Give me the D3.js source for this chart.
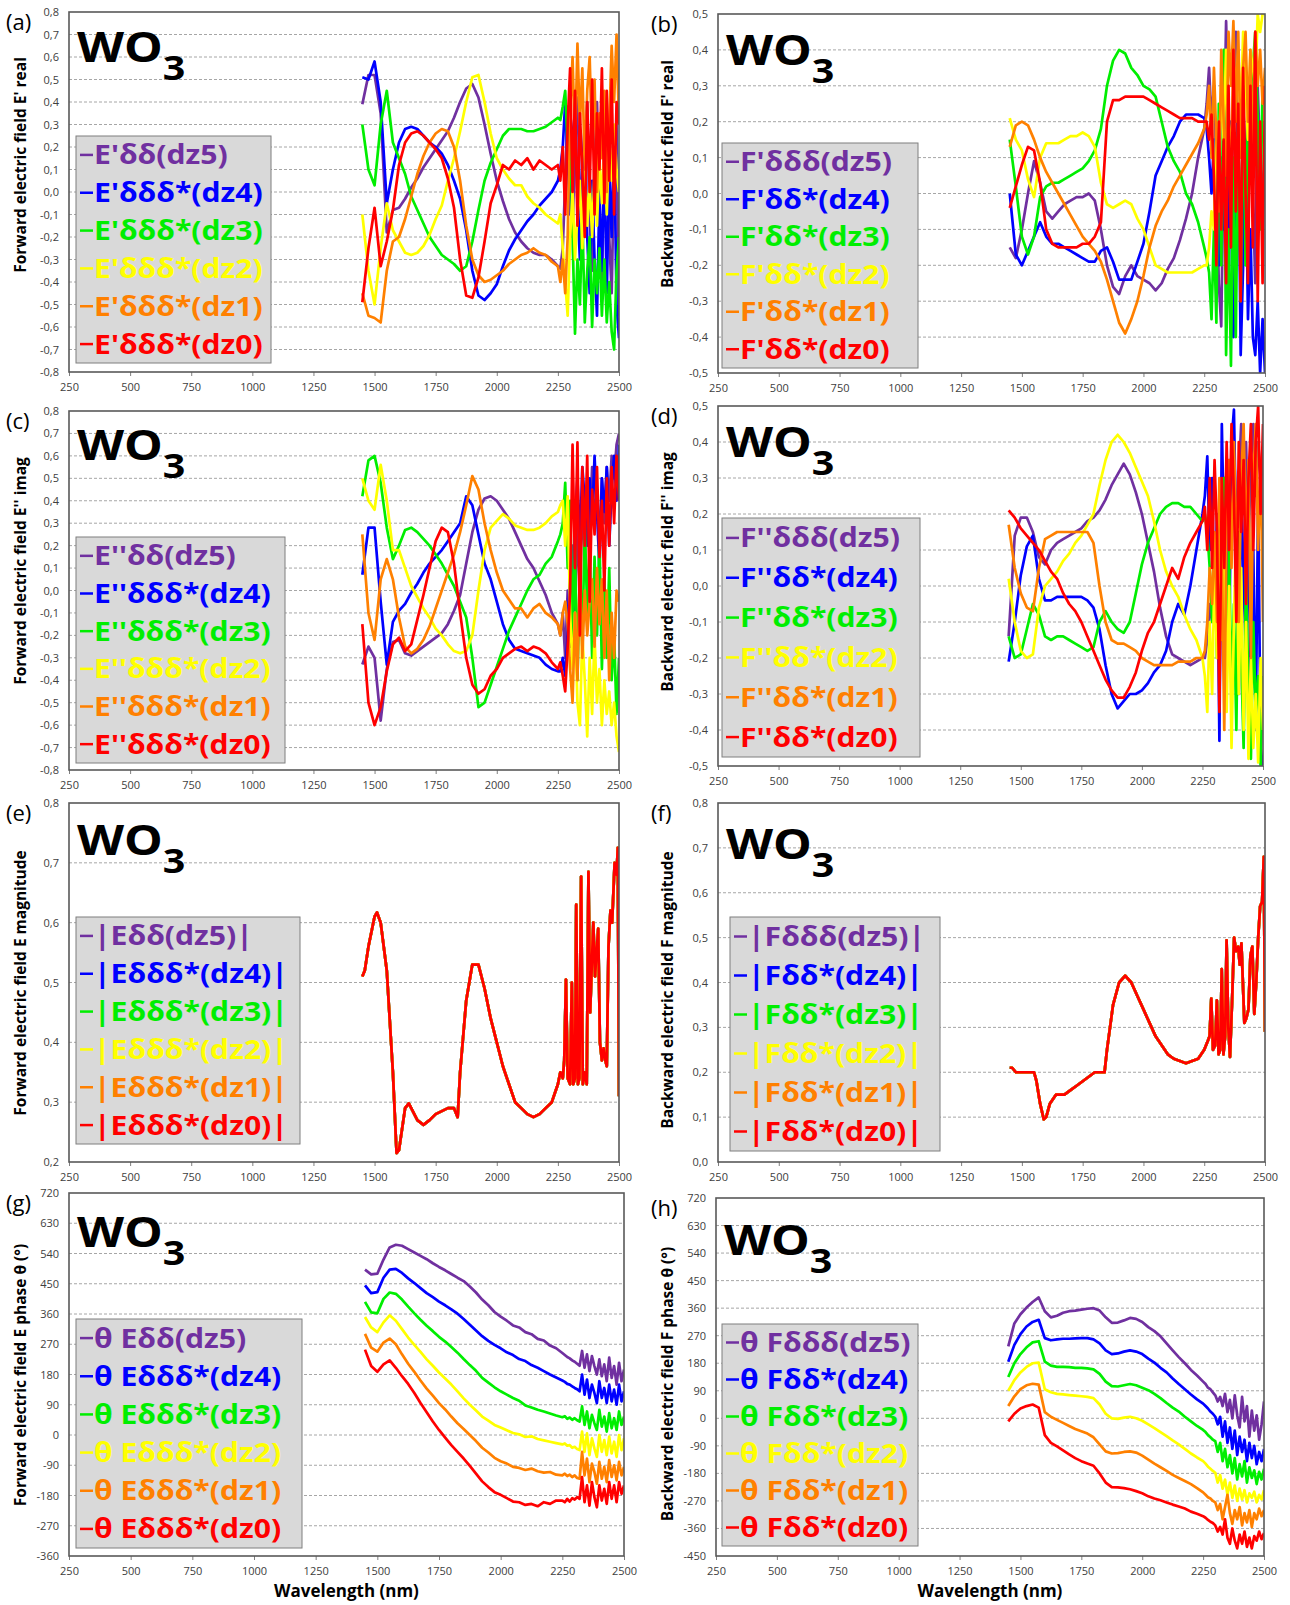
<!DOCTYPE html>
<html>
<head>
<meta charset="utf-8">
<script src="https://cdn.jsdelivr.net/npm/d3@7"></script>
<style>
  body { margin: 0; background: #fff; }
  svg text { font-family: "Open Sans", "Liberation Sans", sans-serif; }
</style>
</head>
<body>
<div id="chart"></div>
<script>
// wavelength grid (nm) for panels a-d, g, h
const wl = [1450,1475,1500,1525,1550,1575,1600,1625,1650,1675,
  1700,1725,1750,1775,1800,1825,1850,1875,1900,1925,
  1950,1975,2000,2025,2050,2075,2100,2125,2150,2175,
  2200,2225,2250,
  2260,2270,2280,2290,2300,2310,2320,2330,2340,2350,
  2360,2370,2380,2390,2400,2410,2420,2430,2440,2450,
  2460,2470,2480,2490,2500];

const colors = ["#7030a0", "#0000ff", "#00ee00", "#ffff00", "#ff8000", "#ff0000"];
const xTicks = [250, 500, 750, 1000, 1250, 1500, 1750, 2000, 2250, 2500];

// (a) forward E' real, rows dz5 .. dz0
const eReal = [
  [0.39,0.52,0.52,0.35,-0.18,-0.08,-0.07,-0.03,0.02,0.06, 0.11,0.15,0.19,0.23,0.27,0.33,0.40,0.46,0.48,0.42,
   0.30,0.17,0.05,-0.04,-0.12,-0.18,-0.22,-0.25,-0.27,-0.28, -0.28,-0.30,-0.33,
   -0.34,-0.25,0.05,0.38,0.10,-0.20,0.25,0.42,0.00,-0.30, 0.20,0.40,-0.10,-0.35,0.15,0.40,-0.05,-0.40,0.10,0.35, -0.20,-0.45,0.10,0.30,-0.55],
  [0.51,0.50,0.58,0.40,-0.05,0.10,0.22,0.28,0.29,0.28, 0.25,0.22,0.20,0.17,0.12,0.05,-0.03,-0.17,-0.35,-0.46,
   -0.48,-0.45,-0.41,-0.33,-0.26,-0.21,-0.17,-0.13,-0.10,-0.06, -0.03,0.00,0.05,
   0.10,0.20,0.40,0.15,-0.10,0.25,0.35,-0.05,-0.30,0.10, 0.30,-0.20,-0.45,0.05,-0.30,-0.55,0.00,-0.35,0.15,-0.45, 0.10,-0.20,0.25,-0.50,-0.65],
  [0.30,0.10,0.03,0.30,0.45,0.22,0.15,0.08,-0.02,-0.08, -0.14,-0.20,-0.24,-0.28,-0.30,-0.32,-0.35,-0.33,-0.22,-0.08,
   0.05,0.13,0.19,0.25,0.28,0.28,0.28,0.27,0.27,0.28, 0.29,0.31,0.33,
   0.32,0.38,0.45,0.20,0.30,-0.20,-0.63,-0.30,-0.50,-0.10, -0.58,-0.35,-0.20,-0.60,-0.30,-0.45,-0.25,-0.55,-0.30,-0.58, -0.40,-0.62,-0.70,-0.35,-0.20],
  [-0.10,-0.35,-0.50,-0.25,-0.05,-0.17,-0.22,-0.27,-0.28,-0.27, -0.24,-0.19,-0.12,-0.06,0.05,0.15,0.27,0.40,0.51,0.52,
   0.40,0.26,0.15,0.10,0.06,0.03,0.03,-0.02,-0.05,-0.07, -0.10,-0.12,-0.14,
   -0.10,-0.25,-0.40,-0.55,-0.20,0.00,-0.30,-0.10,0.05,-0.25, 0.10,-0.15,0.05,-0.20,0.10,-0.15,0.15,-0.05,0.20,-0.10, 0.25,0.05,0.30,0.10,0.00],
  [-0.45,-0.55,-0.56,-0.58,-0.35,-0.22,-0.20,-0.12,-0.02,0.08, 0.16,0.22,0.26,0.28,0.27,0.20,0.05,-0.15,-0.30,-0.37,
   -0.40,-0.39,-0.37,-0.35,-0.32,-0.30,-0.28,-0.27,-0.25,-0.27, -0.28,-0.31,-0.33,
   -0.40,-0.30,-0.45,-0.20,0.35,0.60,0.20,0.66,0.30,0.55, 0.10,0.45,0.60,0.20,0.50,0.00,0.35,0.15,0.45,0.00, 0.30,0.65,0.40,0.70,0.30],
  [-0.49,-0.25,-0.07,-0.33,-0.22,-0.08,0.12,0.22,0.26,0.27, 0.25,0.22,0.19,0.15,0.06,-0.07,-0.30,-0.46,-0.47,-0.38,
   -0.22,-0.05,0.03,0.12,0.10,0.14,0.12,0.15,0.10,0.14, 0.12,0.10,0.12,
   0.05,0.20,-0.10,0.30,0.55,0.00,0.45,-0.15,0.35,0.10, -0.20,0.40,0.00,0.50,-0.10,0.35,0.10,0.55,-0.05,0.45, 0.05,0.50,-0.10,0.40,0.30]
];

// (b) backward F' real
const fReal = [
  [-0.15,-0.18,-0.10,0.00,0.09,0.03,-0.05,-0.07,-0.05,-0.03, -0.02,-0.01,-0.01,0.00,-0.02,-0.10,-0.20,-0.26,-0.28,-0.23,
   -0.20,-0.23,-0.24,-0.25,-0.27,-0.25,-0.21,-0.18,-0.13,-0.07, 0.00,0.10,0.18,
   0.25,0.35,0.20,0.30,0.05,-0.25,-0.37,0.10,0.48,0.20, -0.15,0.30,0.45,0.05,-0.20,0.25,0.10,-0.10,0.35,0.00, -0.25,0.30,0.10,-0.05,0.20],
  [0.00,-0.17,-0.20,-0.16,-0.12,-0.08,-0.12,-0.14,-0.14,-0.15, -0.16,-0.17,-0.18,-0.19,-0.19,-0.16,-0.15,-0.19,-0.24,-0.24,
   -0.24,-0.19,-0.14,-0.05,0.05,0.09,0.13,0.16,0.20,0.22, 0.22,0.22,0.21,
   0.18,0.10,0.00,0.15,0.05,-0.20,0.10,-0.10,0.30,-0.30, 0.20,-0.40,-0.15,0.20,-0.45,-0.20,0.15,-0.35,-0.10,-0.40, -0.45,-0.30,-0.50,-0.35,-0.50],
  [0.15,0.02,-0.12,-0.17,-0.12,-0.01,0.02,0.03,0.03,0.04, 0.05,0.06,0.07,0.09,0.12,0.18,0.30,0.37,0.40,0.39,
   0.35,0.33,0.30,0.29,0.27,0.20,0.13,0.09,0.06,0.00, -0.03,-0.08,-0.15,
   -0.18,-0.22,-0.35,-0.10,-0.36,0.25,-0.20,0.40,-0.45,-0.10, -0.48,0.10,-0.40,0.20,-0.30,0.30,-0.20,0.25,0.05,0.35, 0.45,0.20,-0.10,0.30,0.25],
  [0.21,0.15,0.12,0.04,-0.01,0.10,0.14,0.14,0.14,0.15, 0.16,0.16,0.17,0.16,0.13,0.03,-0.03,-0.04,-0.03,-0.02,
   -0.03,-0.07,-0.10,-0.15,-0.20,-0.21,-0.22,-0.22,-0.22,-0.22, -0.22,-0.21,-0.20,
   -0.20,-0.15,-0.05,-0.10,0.20,0.10,0.30,0.15,0.40,0.20, 0.10,0.35,0.25,0.40,0.20,0.45,0.30,0.15,0.40,0.35, 0.30,0.50,0.45,0.50,0.50],
  [0.13,0.19,0.20,0.19,0.15,0.10,0.06,0.03,0.00,-0.03, -0.06,-0.09,-0.12,-0.14,-0.16,-0.19,-0.24,-0.30,-0.36,-0.39,
   -0.35,-0.30,-0.23,-0.15,-0.09,-0.05,-0.02,0.02,0.05,0.08, 0.11,0.14,0.18,
   0.22,0.30,0.10,0.35,0.15,-0.05,0.40,0.20,0.05,0.45, 0.30,0.48,0.20,0.45,0.10,0.35,0.45,0.20,0.40,0.10, 0.45,0.30,0.40,0.25,0.35],
  [-0.04,0.02,0.08,0.13,0.12,0.03,-0.10,-0.14,-0.15,-0.15, -0.15,-0.15,-0.14,-0.14,-0.12,-0.08,0.20,0.26,0.26,0.27,
   0.27,0.27,0.27,0.26,0.25,0.24,0.23,0.22,0.21,0.21, 0.21,0.20,0.20,
   0.20,0.15,0.22,0.05,-0.20,0.20,-0.10,0.15,-0.25,0.30, -0.15,0.40,-0.05,0.25,-0.30,0.35,0.00,-0.25,0.30,-0.15, 0.45,-0.30,0.20,-0.25,0.30]
];

// (c) forward E'' imag
const eImag = [
  [-0.33,-0.25,-0.30,-0.58,-0.35,-0.23,-0.22,-0.28,-0.29,-0.27, -0.25,-0.23,-0.21,-0.19,-0.15,-0.09,-0.02,0.12,0.26,0.36,
   0.41,0.42,0.40,0.36,0.32,0.26,0.20,0.14,0.10,0.04, -0.02,-0.10,-0.15,
   -0.20,-0.10,-0.30,0.00,-0.25,0.20,-0.10,0.30,0.00,0.40, 0.15,0.50,0.25,0.55,0.30,0.45,0.20,0.50,0.30,0.55, 0.40,0.60,0.50,0.65,0.70],
  [0.07,0.28,0.28,-0.05,-0.33,-0.14,-0.09,-0.06,-0.01,0.03, 0.08,0.12,0.15,0.18,0.22,0.26,0.30,0.42,0.38,0.25,
   0.12,0.05,-0.05,-0.15,-0.22,-0.26,-0.27,-0.28,-0.29,-0.30, -0.33,-0.35,-0.36,
   -0.36,-0.30,-0.38,-0.20,0.10,-0.25,0.30,0.50,0.20,0.55, 0.40,0.20,0.50,0.30,0.60,0.35,0.10,0.50,0.35,0.55, 0.20,0.45,0.60,0.40,0.65],
  [0.42,0.58,0.60,0.48,0.28,0.14,0.20,0.27,0.28,0.26, 0.23,0.20,0.16,0.12,0.07,0.02,-0.05,-0.12,-0.30,-0.52,
   -0.50,-0.42,-0.34,-0.26,-0.18,-0.12,-0.06,0.00,0.05,0.07, 0.12,0.15,0.22,
   0.25,0.30,0.48,0.10,0.40,-0.20,0.20,-0.40,0.10,-0.25, 0.30,-0.10,0.20,-0.30,0.15,-0.20,0.25,-0.35,0.05,-0.30, 0.10,-0.40,-0.20,-0.55,-0.30],
  [0.50,0.40,0.36,0.56,0.40,0.18,0.18,0.10,0.02,-0.03, -0.08,-0.12,-0.17,-0.20,-0.24,-0.27,-0.28,-0.27,-0.20,0.00,
   0.18,0.28,0.31,0.34,0.32,0.29,0.28,0.27,0.27,0.28, 0.30,0.33,0.35,
   0.38,0.40,0.20,0.42,-0.10,-0.35,-0.10,-0.50,-0.60,-0.20, -0.40,-0.65,-0.30,-0.55,-0.20,-0.50,-0.35,-0.60,-0.40,-0.55, -0.45,-0.60,-0.50,-0.65,-0.72],
  [0.25,-0.10,-0.22,0.05,0.14,0.05,-0.12,-0.25,-0.28,-0.26, -0.22,-0.16,-0.08,0.00,0.08,0.16,0.26,0.38,0.51,0.45,
   0.30,0.18,0.08,0.00,-0.04,-0.08,-0.08,-0.12,-0.08,-0.06, -0.10,-0.12,-0.15,
   -0.20,-0.10,-0.05,-0.15,-0.35,-0.50,-0.10,-0.40,0.10,-0.30, 0.00,-0.20,-0.05,0.05,-0.25,0.10,-0.15,0.05,-0.30,0.00, -0.40,-0.10,-0.30,0.00,-0.05],
  [-0.15,-0.50,-0.60,-0.52,-0.36,-0.24,-0.21,-0.27,-0.24,-0.13, -0.02,0.10,0.22,0.28,0.26,0.12,-0.10,-0.30,-0.42,-0.46,
   -0.44,-0.38,-0.35,-0.30,-0.28,-0.26,-0.25,-0.27,-0.25,-0.26, -0.28,-0.32,-0.35,
   -0.32,-0.38,-0.45,-0.25,0.00,0.65,0.10,0.66,-0.20,0.55, 0.20,0.60,-0.05,0.45,0.25,0.55,0.15,0.40,0.00,0.50, 0.20,0.55,0.30,0.60,0.40]
];

// (d) backward F'' imag
const fImag = [
  [-0.14,0.14,0.19,0.19,0.15,0.08,0.06,0.10,0.12,0.13, 0.14,0.15,0.16,0.18,0.19,0.21,0.24,0.28,0.31,0.34,
   0.31,0.26,0.20,0.12,0.04,-0.06,-0.14,-0.19,-0.20,-0.21, -0.22,-0.21,-0.20,
   -0.20,-0.15,-0.05,-0.10,0.10,-0.05,0.20,0.05,0.30,0.10, 0.35,0.20,0.40,0.15,0.30,0.45,0.20,0.40,0.10,0.35, 0.45,0.25,0.40,0.30,0.10],
  [-0.21,-0.10,0.03,0.11,0.14,0.02,-0.04,-0.04,-0.03,-0.03, -0.03,-0.03,-0.03,-0.04,-0.06,-0.12,-0.22,-0.30,-0.34,-0.32,
   -0.30,-0.30,-0.29,-0.27,-0.24,-0.22,-0.18,-0.10,-0.05,-0.08, 0.00,0.10,0.20,
   0.25,0.36,0.10,0.30,-0.10,0.20,-0.43,0.45,0.10,0.35, -0.20,0.40,0.49,0.10,-0.30,0.30,0.00,-0.20,0.20,-0.35, 0.10,-0.40,0.25,-0.45,-0.50],
  [-0.14,-0.20,-0.19,-0.12,-0.05,-0.08,-0.14,-0.15,-0.14,-0.14, -0.15,-0.16,-0.17,-0.18,-0.17,-0.10,-0.07,-0.10,-0.12,-0.13,
   -0.10,-0.02,0.06,0.12,0.16,0.20,0.22,0.23,0.23,0.22, 0.22,0.20,0.18,
   0.20,0.15,0.05,-0.10,0.10,-0.20,0.20,-0.15,0.30,-0.25, 0.10,-0.30,-0.05,-0.40,0.15,-0.20,-0.45,0.05,-0.30,-0.48, -0.10,-0.35,-0.25,-0.50,-0.25],
  [0.02,-0.10,-0.18,-0.20,-0.19,-0.06,0.00,0.02,0.04,0.07, 0.09,0.12,0.14,0.17,0.20,0.28,0.35,0.40,0.42,0.40,
   0.37,0.33,0.29,0.25,0.18,0.10,0.04,0.00,-0.03,-0.08, -0.12,-0.15,-0.20,
   -0.25,-0.35,-0.10,-0.30,0.05,-0.20,0.25,-0.15,0.10,-0.35, 0.00,-0.45,-0.10,0.20,-0.30,0.05,-0.40,-0.10,-0.48,-0.20, -0.45,-0.30,-0.49,-0.20,-0.40],
  [0.17,0.05,-0.02,-0.06,-0.07,0.05,0.13,0.14,0.15,0.15, 0.15,0.15,0.15,0.15,0.12,0.00,-0.10,-0.15,-0.16,-0.16,
   -0.17,-0.18,-0.20,-0.21,-0.22,-0.22,-0.22,-0.22,-0.21,-0.21, -0.21,-0.20,-0.20,
   -0.18,-0.10,0.05,-0.05,0.15,-0.10,0.30,0.10,-0.40,0.20, 0.35,0.05,0.40,0.15,-0.10,0.30,0.45,0.10,0.35,-0.20, 0.30,0.45,0.10,0.35,-0.10],
  [0.21,0.19,0.16,0.14,0.12,0.10,0.07,0.04,0.02,-0.02, -0.05,-0.07,-0.10,-0.14,-0.18,-0.22,-0.26,-0.29,-0.31,-0.31,
   -0.28,-0.24,-0.18,-0.13,-0.10,-0.05,0.00,0.05,0.02,0.08, 0.12,0.15,0.18,
   0.22,0.10,0.30,0.05,0.35,0.15,-0.35,0.30,0.05,0.40, 0.10,0.45,0.25,-0.10,0.40,0.15,0.35,-0.05,0.30,0.45, 0.10,0.40,0.50,0.20,0.45]
];

// (e) |E| – identical for all six dz, its own finer grid
const eMagWl = [1450,1460,1475,1500,1510,1525,1550,1575,1590,1600,
  1625,1640,1650,1675,1700,1725,1750,1775,1800,1825,
  1840,1850,1875,1900,1925,1950,1975,2000,2025,2050,
  2075,2100,2125,2150,2175,2200,2225,2250,2260,2270,
  2276,2283,2290,2300,2307,2313,2320,2325,2332,2338,
  2345,2352,2360,2368,2375,2382,2388,2395,2402,2408,
  2415,2422,2430,2437,2444,2450,2457,2465,2472,2482,
  2490,2495,2500];
const eMag = [0.51,0.52,0.56,0.61,0.617,0.60,0.52,0.35,0.215,0.22,
  0.29,0.298,0.29,0.27,0.262,0.27,0.28,0.285,0.29,0.29,
  0.275,0.35,0.47,0.53,0.53,0.49,0.44,0.40,0.36,0.33,
  0.30,0.29,0.28,0.275,0.28,0.29,0.30,0.33,0.35,0.34,
  0.37,0.505,0.34,0.33,0.50,0.33,0.34,0.63,0.33,0.34,
  0.677,0.33,0.35,0.33,0.685,0.45,0.52,0.60,0.51,0.55,
  0.59,0.40,0.37,0.39,0.37,0.36,0.56,0.62,0.60,0.70,
  0.68,0.725,0.31];

// (f) |F|
const fMagWl = [1450,1460,1475,1500,1525,1550,1560,1575,1590,1600,
  1615,1640,1650,1675,1700,1725,1750,1775,1800,1825,
  1840,1850,1875,1900,1925,1950,1975,2000,2025,2050,
  2075,2100,2125,2150,2175,2200,2225,2250,2265,2272,
  2279,2286,2295,2302,2309,2316,2322,2329,2336,2342,
  2349,2356,2364,2373,2381,2390,2396,2403,2409,2415,
  2423,2432,2440,2448,2456,2464,2472,2480,2488,2495,
  2500];
const fMag = [0.21,0.21,0.20,0.20,0.20,0.20,0.18,0.13,0.095,0.10,
  0.13,0.15,0.15,0.15,0.16,0.17,0.18,0.19,0.20,0.20,
  0.20,0.25,0.35,0.40,0.415,0.40,0.37,0.34,0.31,0.28,
  0.26,0.24,0.23,0.225,0.22,0.225,0.23,0.25,0.27,0.28,
  0.364,0.25,0.26,0.36,0.24,0.25,0.43,0.24,0.28,0.494,
  0.30,0.234,0.35,0.50,0.47,0.48,0.44,0.487,0.40,0.31,
  0.32,0.34,0.46,0.48,0.33,0.40,0.50,0.57,0.58,0.68,
  0.29];

// (g) phase of E (deg)
const ePhase = [
  [492,478,480,522,558,566,563,553,543,533, 523,511,500,490,479,468,458,442,424,403,
   386,366,352,340,326,320,306,300,286,281, 266,258,244,
   238,232,228,222,218,212,206,250,200,240, 190,235,205,180,225,175,210,160,230,170, 205,150,215,160,195],
  [445,422,425,468,492,494,482,466,452,437, 422,410,397,386,374,361,345,328,311,294,
   280,268,258,246,238,226,220,208,200,190, 180,171,162,
   158,152,150,145,140,136,130,180,120,165, 110,150,125,95,160,110,140,95,150,100, 135,90,150,100,130],
  [396,365,362,405,424,420,403,382,362,343, 325,309,292,278,262,245,226,208,191,170,
   156,142,130,120,110,102,88,82,75,70, 64,58,53,
   56,48,52,45,50,44,40,85,30,70, 20,60,35,15,75,25,55,10,65,20, 50,15,70,30,55],
  [351,320,306,335,356,340,315,290,268,247, 225,206,186,168,150,130,109,90,73,55,
   43,30,22,14,6,2,-6,-4,-12,-16, -20,-24,-28,
   -25,-32,-30,-38,-35,-42,-45,10,-50,5, -60,-10,-40,-65,0,-50,-15,-60,-5,-55, -20,-65,0,-45,-10],
  [301,260,248,275,287,270,240,212,188,162, 138,117,95,76,55,35,18,0,-18,-38,
   -52,-68,-78,-85,-95,-98,-104,-100,-108,-112, -110,-118,-120,
   -115,-122,-118,-125,-120,-128,-130,-50,-120,-70, -140,-85,-110,-145,-80,-130,-95,-140,-75,-125, -90,-135,-80,-120,-95],
  [254,205,188,210,222,200,175,152,125,95, 68,40,15,-8,-30,-50,-70,-92,-115,-138,
   -155,-170,-178,-188,-198,-200,-208,-205,-212,-200, -205,-195,-195,
   -200,-190,-198,-188,-192,-185,-190,-125,-200,-150, -210,-140,-185,-215,-150,-195,-160,-205,-140,-190, -150,-200,-140,-175,-150]
];

// (h) phase of F (deg)
const fPhase = [
  [235,310,340,362,380,395,350,330,335,345, 350,352,355,358,360,352,330,312,313,320,
   328,325,315,298,285,268,245,222,200,180, 158,140,120,
   112,100,95,85,75,55,70,40,80,20, 60,0,75,10,-30,70,-10,40,-60,25, -40,10,-70,-20,55],
  [185,240,275,300,315,322,262,255,258,260, 260,261,262,262,258,245,222,210,212,218,
   222,218,210,195,182,165,150,130,112,95, 78,62,48,
   40,32,22,15,5,-20,5,-60,-10,-80, -30,-100,-40,-120,-60,-110,-70,-140,-80,-130, -90,-150,-110,-140,-100],
  [135,180,210,232,248,252,185,172,168,168, 167,165,165,163,160,145,120,105,104,108,
   112,108,100,92,80,66,50,35,22,5, -10,-25,-38,
   -45,-55,-62,-70,-75,-110,-80,-140,-100,-160, -120,-180,-130,-200,-150,-190,-140,-210,-160,-195, -170,-215,-175,-200,-165],
  [90,125,150,168,180,182,95,85,80,78, 76,74,72,70,66,45,15,0,-2,2,
   5,0,-8,-20,-32,-45,-58,-72,-85,-100, -115,-128,-140,
   -148,-158,-165,-172,-178,-210,-185,-230,-200,-250, -210,-260,-220,-270,-230,-265,-235,-275,-245,-260, -240,-275,-250,-265,-235],
  [40,72,95,108,113,110,20,5,-5,-15, -25,-35,-42,-50,-62,-85,-108,-115,-114,-110,
   -108,-112,-122,-135,-148,-160,-172,-185,-195,-205, -215,-228,-242,
   -250,-258,-262,-270,-275,-300,-280,-330,-290,-250, -310,-345,-300,-330,-290,-350,-310,-340,-300,-355, -310,-330,-295,-320,-300],
  [-10,15,32,40,45,35,-55,-80,-92,-105, -118,-130,-140,-148,-155,-180,-210,-225,-226,-228,
   -232,-238,-245,-255,-262,-268,-275,-282,-288,-295, -305,-312,-320,
   -325,-332,-338,-342,-350,-370,-355,-380,-330,-390, -410,-360,-400,-425,-380,-410,-370,-420,-390,-425, -385,-400,-370,-395,-375]
];

// legend texts
const legA = ["E'δδ(dz5)", "E'δδδ*(dz4)", "E'δδδ*(dz3)", "E'δδδ*(dz2)", "E'δδδ*(dz1)", "E'δδδ*(dz0)"];
const legB = ["F'δδδ(dz5)", "F'δδ*(dz4)", "F'δδ*(dz3)", "F'δδ*(dz2)", "F'δδ*(dz1)", "F'δδ*(dz0)"];
const legC = ["E''δδ(dz5)", "E''δδδ*(dz4)", "E''δδδ*(dz3)", "E''δδδ*(dz2)", "E''δδδ*(dz1)", "E''δδδ*(dz0)"];
const legD = ["F''δδδ(dz5)", "F''δδ*(dz4)", "F''δδ*(dz3)", "F''δδ*(dz2)", "F''δδ*(dz1)", "F''δδ*(dz0)"];
const legE = ["|Eδδ(dz5)|", "|Eδδδ*(dz4)|", "|Eδδδ*(dz3)|", "|Eδδδ*(dz2)|", "|Eδδδ*(dz1)|", "|Eδδδ*(dz0)|"];
const legF = ["|Fδδδ(dz5)|", "|Fδδ*(dz4)|", "|Fδδ*(dz3)|", "|Fδδ*(dz2)|", "|Fδδ*(dz1)|", "|Fδδ*(dz0)|"];
const legG = ["θ Eδδ(dz5)", "θ Eδδδ*(dz4)", "θ Eδδδ*(dz3)", "θ Eδδδ*(dz2)", "θ Eδδδ*(dz1)", "θ Eδδδ*(dz0)"];
const legH = ["θ Fδδδ(dz5)", "θ Fδδ*(dz4)", "θ Fδδ*(dz3)", "θ Fδδ*(dz2)", "θ Fδδ*(dz1)", "θ Fδδ*(dz0)"];

let panels = [
  { tag: "(a)", xs: wl, rows: eReal, dom: [-0.8, 0.8], step: 0.1, box: [69, 12, 619, 372],
    title: "Forward electric field E' real", titleY: 165, leg: legA, legBox: [76, 136, 271, 363], woY: 50 },
  { tag: "(b)", xs: wl, rows: fReal, dom: [-0.5, 0.5], step: 0.1, box: [718, 14, 1265, 373],
    title: "Backward electric field F' real", titleY: 174, leg: legB, legBox: [722, 143, 918, 368], woY: 51 },
  { tag: "(c)", xs: wl, rows: eImag, dom: [-0.8, 0.8], step: 0.1, box: [69, 411, 619, 770],
    title: "Forward electric field E'' imag", titleY: 571, leg: legC, legBox: [76, 537, 285, 763], woY: 49 },
  { tag: "(d)", xs: wl, rows: fImag, dom: [-0.5, 0.5], step: 0.1, box: [718, 406, 1263, 766],
    title: "Backward electric field F'' imag", titleY: 572, leg: legD, legBox: [722, 518, 920, 757], woY: 51 },
  { tag: "(e)", xs: eMagWl, rows: [eMag, eMag, eMag, eMag, eMag, eMag], dom: [0.2, 0.8], step: 0.1, box: [69, 803, 619, 1162],
    title: "Forward electric field E magnitude", titleY: 983, leg: legE, legBox: [76, 917, 300, 1144], woY: 52 },
  { tag: "(f)", xs: fMagWl, rows: [fMag, fMag, fMag, fMag, fMag, fMag], dom: [0.0, 0.8], step: 0.1, box: [718, 803, 1265, 1162],
    title: "Backward electric field F magnitude", titleY: 990, leg: legF, legBox: [730, 917, 940, 1151], woY: 56 },
  { tag: "(g)", xs: wl, rows: ePhase, dom: [-360, 720], step: 90, box: [69, 1193, 624, 1556],
    title: "Forward electric field E phase θ (°)", titleY: 1375, leg: legG, legBox: [76, 1319, 302, 1548], woY: 54, xTitle: true },
  { tag: "(h)", xs: wl, rows: fPhase, dom: [-450, 720], step: 90, box: [716, 1198, 1264, 1556],
    title: "Backward electric field F phase θ (°)", titleY: 1384, leg: legH, legBox: [722, 1324, 918, 1546], woY: 57, xTitle: true }
];

let svg = d3.select("#chart")
  .append("svg")
  .attr("width", 1290)
  .attr("height", 1605);

function fmtTick(d, step) {
  if (step >= 1) return String(Math.round(d));
  return (Math.round(d * 10) / 10).toFixed(1).replace(".", ",");
}

function drawPanel(p, k) {
  let [x0, y0, x1, y1] = p.box;
  let left = x0 < 400;
  let g = svg.append("g");

  let x = d3.scaleLinear().domain([250, 2500]).range([x0, x1]);
  let y = d3.scaleLinear().domain(p.dom).range([y1, y0]);
  let n = Math.round((p.dom[1] - p.dom[0]) / p.step);
  let yTicks = d3.range(n + 1).map(i => p.dom[0] + i * p.step);

  // dashed gridlines
  g.selectAll(".grid")
    .data(yTicks.slice(1, -1))
    .join("line")
    .attr("x1", x0).attr("x2", x1)
    .attr("y1", d => y(d)).attr("y2", d => y(d))
    .attr("stroke", "#a6a6a6")
    .attr("stroke-width", 1)
    .attr("stroke-dasharray", "3,2");

  // clip for the curves
  svg.append("clipPath").attr("id", "clip" + k)
    .append("rect").attr("x", x0).attr("y", y0).attr("width", x1 - x0).attr("height", y1 - y0);

  let line = d3.line()
    .x((d, i) => x(p.xs[i]))
    .y(d => y(d));

  g.append("g").attr("clip-path", `url(#clip${k})`)
    .selectAll("path")
    .data(p.rows)
    .join("path")
    .attr("d", d => line(d))
    .attr("fill", "none")
    .attr("stroke", (d, i) => colors[i])
    .attr("stroke-width", 2.7)
    .attr("stroke-linejoin", "round");

  // axes
  let xAxis = g.append("g")
    .attr("transform", `translate(0,${y1})`)
    .call(d3.axisBottom(x).tickValues(xTicks).tickSize(4).tickPadding(7).tickFormat(d => d));
  let yAxis = g.append("g")
    .attr("transform", `translate(${x0},0)`)
    .call(d3.axisLeft(y).tickValues(yTicks).tickSize(0).tickPadding(10).tickFormat(d => fmtTick(d, p.step)));
  [xAxis, yAxis].forEach(a => {
    a.select(".domain").remove();
    a.selectAll("line").attr("stroke", "#7f7f7f");
    a.selectAll("text")
      .attr("font-family", "'Open Sans', sans-serif")
      .attr("font-size", 11)
      .attr("fill", "#404040");
  });

  // plot frame
  g.append("rect")
    .attr("x", x0).attr("y", y0)
    .attr("width", x1 - x0).attr("height", y1 - y0)
    .attr("fill", "none")
    .attr("stroke", "#595959")
    .attr("stroke-width", 1.6);

  // y title
  g.append("text")
    .attr("transform", `translate(${left ? 26 : 673},${p.titleY}) rotate(-90)`)
    .attr("text-anchor", "middle")
    .attr("font-weight", "bold")
    .attr("font-size", 15.5)
    .attr("fill", "#000")
    .text(p.title);

  // panel tag
  g.append("text")
    .attr("x", left ? 6 : 651)
    .attr("y", y0 + 18)
    .attr("font-size", 22)
    .attr("fill", "#000")
    .text(p.tag);

  // WO3 label
  let wo = g.append("text")
    .attr("transform", `translate(${x0 + 8},${y0 + p.woY}) scale(1.16,1)`)
    .attr("font-family", "'DejaVu Sans', sans-serif")
    .attr("font-weight", "bold")
    .attr("font-size", 42)
    .attr("fill", "#000");
  wo.append("tspan").text("WO");
  wo.append("tspan").attr("font-size", 34).attr("dy", 18).text("3");

  // legend
  let [lx0, ly0, lx1, ly1] = p.legBox;
  g.append("rect")
    .attr("x", lx0).attr("y", ly0)
    .attr("width", lx1 - lx0).attr("height", ly1 - ly0)
    .attr("fill", "#d9d9d9")
    .attr("stroke", "#7f7f7f")
    .attr("stroke-width", 1);
  let rowH = (ly1 - ly0) / 6;
  let items = g.selectAll(".leg")
    .data(p.leg)
    .join("g")
    .attr("transform", (d, i) => `translate(${lx0},${ly0 + rowH * (i + 0.5)})`);
  items.append("line")
    .attr("x1", 4).attr("x2", 17)
    .attr("y1", 0).attr("y2", 0)
    .attr("stroke", (d, i) => colors[i])
    .attr("stroke-width", 2.5);
  items.append("text")
    .attr("transform", "translate(18,9.5) scale(1.16,1)")
    .attr("font-weight", "bold")
    .attr("font-size", 26)
    .attr("fill", (d, i) => colors[i])
    .text(d => d);

  if (p.xTitle) {
    g.append("text")
      .attr("x", (x0 + x1) / 2)
      .attr("y", 1597)
      .attr("text-anchor", "middle")
      .attr("font-weight", "bold")
      .attr("font-size", 17)
      .attr("fill", "#000")
      .text("Wavelength (nm)");
  }
}

panels.forEach((p, k) => drawPanel(p, k));
</script>
</body>
</html>
